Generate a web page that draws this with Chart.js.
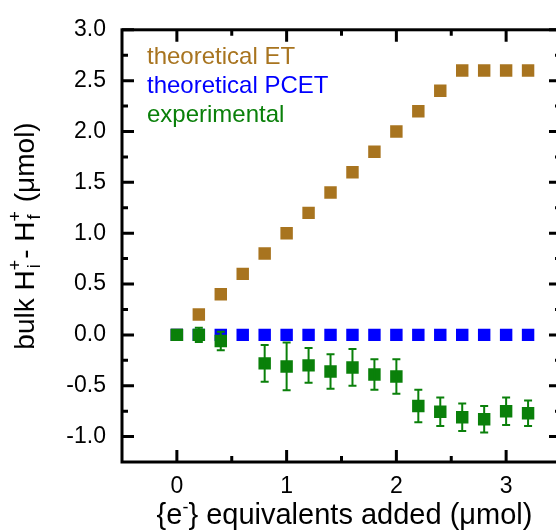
<!DOCTYPE html>
<html><head><meta charset="utf-8">
<script src="https://cdn.jsdelivr.net/npm/chart.js@4.4.0/dist/chart.umd.min.js"></script>
<style>
html,body{margin:0;padding:0;background:#fff;overflow:hidden;}
#wrap{width:570px;height:531px;position:relative;}
</style></head><body>
<div id="wrap"><canvas id="c" width="570" height="531"></canvas></div>
<script>
// ---- data ----
const equivalents = [0, 0.2, 0.4, 0.6, 0.8, 1.0, 1.2, 1.4, 1.6, 1.8, 2.0, 2.2, 2.4, 2.6, 2.8, 3.0, 3.2];
const theoreticalET = [0, 0.2, 0.4, 0.6, 0.8, 1.0, 1.2, 1.4, 1.6, 1.8, 2.0, 2.2, 2.4, 2.6, 2.6, 2.6, 2.6];
const theoreticalPCET = [0, 0, 0, 0, 0, 0, 0, 0, 0, 0, 0, 0, 0, 0, 0, 0, 0];
const experimental = [0.0, 0.0, -0.06, null, -0.28, -0.31, -0.30, -0.36, -0.32, -0.39, -0.41, -0.70, -0.755, -0.81, -0.83, -0.75, -0.77];
const experimentalErr = [0.03, 0.07, 0.09, null, 0.18, 0.235, 0.17, 0.17, 0.18, 0.15, 0.17, 0.16, 0.14, 0.135, 0.13, 0.135, 0.125];
const seriesLabels = ['theoretical ET', 'theoretical PCET', 'experimental'];

const COL_ET = '#A8741F', COL_PCET = '#0000FF', COL_EXP = '#0A800A';
const FONT = '"Liberation Sans", Arial, Helvetica, sans-serif';

function pts(ys) {
  const out = [];
  equivalents.forEach((x, i) => { if (ys[i] !== null) out.push({x: x, y: ys[i]}); });
  return out;
}

const markerBase = { showLine: false, pointStyle: 'rect', pointRadius: 8.8, pointHoverRadius: 8.8, borderWidth: 0, pointBorderWidth: 0 };

const decor = {
  id: 'decor',
  afterDatasetsDraw(chart) {
    const ctx = chart.ctx, xs = chart.scales.x, ys = chart.scales.y;
    ctx.save();
    ctx.strokeStyle = COL_EXP; ctx.lineWidth = 2;
    equivalents.forEach((x, i) => {
      const v = experimental[i], e = experimentalErr[i];
      if (v === null || e === null) return;
      const px = xs.getPixelForValue(x);
      const top = ys.getPixelForValue(v + e), bot = ys.getPixelForValue(v - e);
      ctx.beginPath();
      ctx.moveTo(px, top); ctx.lineTo(px, bot);
      ctx.moveTo(px - 4, top); ctx.lineTo(px + 4, top);
      ctx.moveTo(px - 4, bot); ctx.lineTo(px + 4, bot);
      ctx.stroke();
    });
    ctx.restore();
  },
  afterDraw(chart) {
    const ctx = chart.ctx, a = chart.chartArea, xs = chart.scales.x, ys = chart.scales.y;
    ctx.save();
    // frame
    ctx.strokeStyle = '#000'; ctx.lineWidth = 3;
    ctx.strokeRect(a.left, a.top, a.right - a.left, a.bottom - a.top);
    // ticks
    const xMaj = xs.ticks.map(t => t.value);
    const yMaj = ys.ticks.map(t => t.value);
    const xMin = [], yMin = [];
    xMaj.forEach(v => { [v - 0.5, v + 0.5].forEach(m => { if (m > xs.min && m < xs.max && !xMin.includes(m)) xMin.push(m); }); });
    yMaj.forEach(v => { [v - 0.25, v + 0.25].forEach(m => { if (m > ys.min && m < ys.max && !yMin.includes(m)) yMin.push(m); }); });
    ctx.lineWidth = 3;
    ctx.beginPath();
    const tick = (vals, len, isX) => vals.forEach(v => {
      if (isX) {
        const p = xs.getPixelForValue(v);
        ctx.moveTo(p, a.bottom); ctx.lineTo(p, a.bottom - len);
        ctx.moveTo(p, a.top); ctx.lineTo(p, a.top + len);
      } else {
        const p = ys.getPixelForValue(v);
        ctx.moveTo(a.left, p); ctx.lineTo(a.left + len, p);
        ctx.moveTo(a.right, p); ctx.lineTo(a.right - len, p);
      }
    });
    tick(xMaj, 12, true); tick(xMin, 6, true);
    tick(yMaj, 12, false); tick(yMin, 6, false);
    ctx.stroke();

    // legend text
    const cols = [COL_ET, COL_PCET, COL_EXP];
    const base = [63.5, 93, 122];
    ctx.font = '24px ' + FONT; ctx.textAlign = 'left'; ctx.textBaseline = 'alphabetic';
    seriesLabels.forEach((s, i) => { ctx.fillStyle = cols[i]; ctx.fillText(s, 147, base[i]); });

    // x title
    ctx.fillStyle = '#000';
    const big = '29px ' + FONT, small = '18px ' + FONT;
    const xparts = [['{e', big, 0], ['-', small, -11], ['} equivalents added (\u03BCmol)', big, 0]];
    let w = 0;
    xparts.forEach(p => { ctx.font = p[1]; w += ctx.measureText(p[0]).width; });
    let cx = (a.left + a.right) / 2 + 3 - w / 2;
    xparts.forEach(p => { ctx.font = p[1]; ctx.fillText(p[0], cx, 524 + p[2]); cx += ctx.measureText(p[0]).width; });

    // y title
    ctx.save();
    ctx.translate(34, 236);
    ctx.rotate(-Math.PI / 2);
    const bigY = '28px ' + FONT;
    const segs = [
      {t: 'bulk H'}, {sup: '+', sub: 'i'}, {t: '- H'}, {sup: '+', sub: 'f'}, {t: ' (\u03BCmol)'}
    ];
    const segW = s => {
      if (s.t) { ctx.font = bigY; return ctx.measureText(s.t).width; }
      ctx.font = small; return Math.max(ctx.measureText(s.sup).width, ctx.measureText(s.sub).width) + 1;
    };
    let tw = 0; segs.forEach(s => tw += segW(s));
    let sx = -tw / 2;
    segs.forEach(s => {
      const sw = segW(s);
      if (s.t) { ctx.font = bigY; ctx.fillText(s.t, sx, 0); }
      else { ctx.font = small; ctx.fillText(s.sup, sx, -13); ctx.fillText(s.sub, sx + 2, 6); }
      sx += sw;
    });
    ctx.restore();
    ctx.restore();
  }
};

new Chart(document.getElementById('c'), {
  type: 'scatter',
  data: {
    datasets: [
      Object.assign({ label: seriesLabels[2], data: pts(experimental), backgroundColor: COL_EXP, borderColor: COL_EXP, order: 0 }, markerBase),
      Object.assign({ label: seriesLabels[1], data: pts(theoreticalPCET), backgroundColor: COL_PCET, borderColor: COL_PCET, order: 1 }, markerBase),
      Object.assign({ label: seriesLabels[0], data: pts(theoreticalET), backgroundColor: COL_ET, borderColor: COL_ET, order: 2 }, markerBase)
    ]
  },
  options: {
    responsive: false,
    animation: false,
    layout: { padding: { top: 22, right: 9, left: 0, bottom: 0 } },
    plugins: { legend: { display: false }, tooltip: { enabled: false } },
    scales: {
      x: {
        type: 'linear', min: -0.5, max: 3.5,
        grid: { display: false, drawTicks: false },
        border: { display: false },
        ticks: { stepSize: 0.5, includeBounds: false, color: '#000', font: { size: 23, family: FONT }, padding: 11, maxRotation: 0,
                 callback: v => String(v) },
        afterBuildTicks: s => { s.ticks = s.ticks.filter(t => Number.isInteger(t.value)); },
        afterFit: s => { s.height = 69; }
      },
      y: {
        type: 'linear', min: -1.25, max: 3.0,
        grid: { display: false, drawTicks: false },
        border: { display: false },
        ticks: { stepSize: 0.5, includeBounds: false, color: '#000', font: { size: 23, family: FONT }, padding: 16,
                 callback: v => v.toFixed(1) },
        afterFit: s => { s.width = 122; }
      }
    }
  },
  plugins: [decor]
});
</script>
</body></html>
